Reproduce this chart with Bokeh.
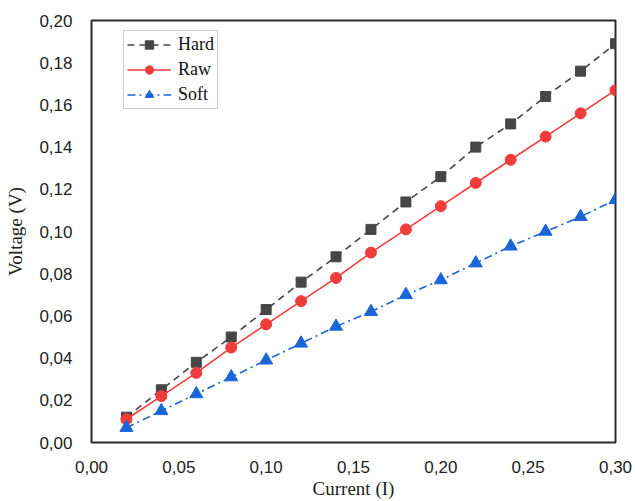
from bokeh.plotting import figure
from bokeh.models import FixedTicker, CustomJSTickFormatter, Range1d, Legend, LegendItem
from bokeh.embed import file_html
from bokeh.resources import INLINE

current = [0.02, 0.04, 0.06, 0.08, 0.10, 0.12, 0.14, 0.16, 0.18, 0.20, 0.22, 0.24, 0.26, 0.28, 0.30]
hard = [0.012, 0.025, 0.038, 0.050, 0.063, 0.076, 0.088, 0.101, 0.114, 0.126, 0.140, 0.151, 0.164, 0.176, 0.189]
raw = [0.011, 0.022, 0.033, 0.045, 0.056, 0.067, 0.078, 0.090, 0.101, 0.112, 0.123, 0.134, 0.145, 0.156, 0.167]
soft = [0.007, 0.015, 0.023, 0.031, 0.039, 0.047, 0.055, 0.062, 0.070, 0.077, 0.085, 0.093, 0.100, 0.107, 0.115]
x_ticks = [0.00, 0.05, 0.10, 0.15, 0.20, 0.25, 0.30]
y_ticks = [0.00, 0.02, 0.04, 0.06, 0.08, 0.10, 0.12, 0.14, 0.16, 0.18, 0.20]

p = figure(frame_width=524, frame_height=422, output_backend="svg", toolbar_location=None,
           x_range=Range1d(0, 0.30), y_range=Range1d(0, 0.20),
           min_border_left=91, min_border_right=18, min_border_top=20, min_border_bottom=56)
p.background_fill_color = "white"
p.border_fill_color = "white"
p.grid.visible = False
p.outline_line_color = "#2a2a2a"
p.outline_line_width = 2

fmt = CustomJSTickFormatter(code="return tick.toFixed(2).replace('.', ',');")
for ax, ticks in ((p.xaxis[0], x_ticks), (p.yaxis[0], y_ticks)):
    ax.ticker = FixedTicker(ticks=ticks)
    ax.formatter = fmt
    ax.major_tick_line_color = None
    ax.minor_tick_line_color = None
    ax.axis_line_color = None
    ax.major_label_text_font = "Liberation Sans"
    ax.major_label_text_font_size = "17px"
    ax.major_label_text_color = "#222222"
    ax.major_label_standoff = 13
    ax.axis_label_text_font = "Liberation Serif"
    ax.axis_label_text_font_size = "19px"
    ax.axis_label_text_font_style = "normal"
    ax.axis_label_text_color = "#222222"

p.xaxis.axis_label = "Current (I)"
p.yaxis.axis_label = "Voltage (V)"
p.xaxis.major_label_standoff = 12
p.xaxis.axis_label_standoff = 2
p.yaxis.axis_label_standoff = 10

hard_c = "#464646"
raw_c = "#f23c3c"
soft_c = "#1a66d9"

l1 = p.line(current, hard, line_color=hard_c, line_width=1.6, line_dash="7 5")
s1 = p.scatter(current, hard, marker="square", size=10, fill_color=hard_c, line_color=hard_c)
l2 = p.line(current, raw, line_color=raw_c, line_width=1.6)
s2 = p.scatter(current, raw, marker="circle", size=11, fill_color=raw_c, line_color=raw_c)
l3 = p.line(current, soft, line_color=soft_c, line_width=1.6, line_dash="8 4 2 4")
s3 = p.scatter(current, soft, marker="triangle", size=13, fill_color=soft_c, line_color=soft_c)

legend = Legend(items=[
    LegendItem(label="Hard", renderers=[l1, s1]),
    LegendItem(label="Raw", renderers=[l2, s2]),
    LegendItem(label="Soft", renderers=[l3, s3]),
], location=(32, 333))
legend.label_text_font = "Liberation Serif"
legend.label_text_font_size = "18px"
legend.label_text_color = "#111111"
legend.glyph_width = 44
legend.glyph_height = 21
legend.label_standoff = 7
legend.spacing = 4
legend.padding = 3
legend.margin = 0
legend.border_line_color = "#999999"
legend.border_line_width = 1
legend.background_fill_alpha = 1
p.add_layout(legend, "center")

open("out.html", "w").write(file_html(p, INLINE))
